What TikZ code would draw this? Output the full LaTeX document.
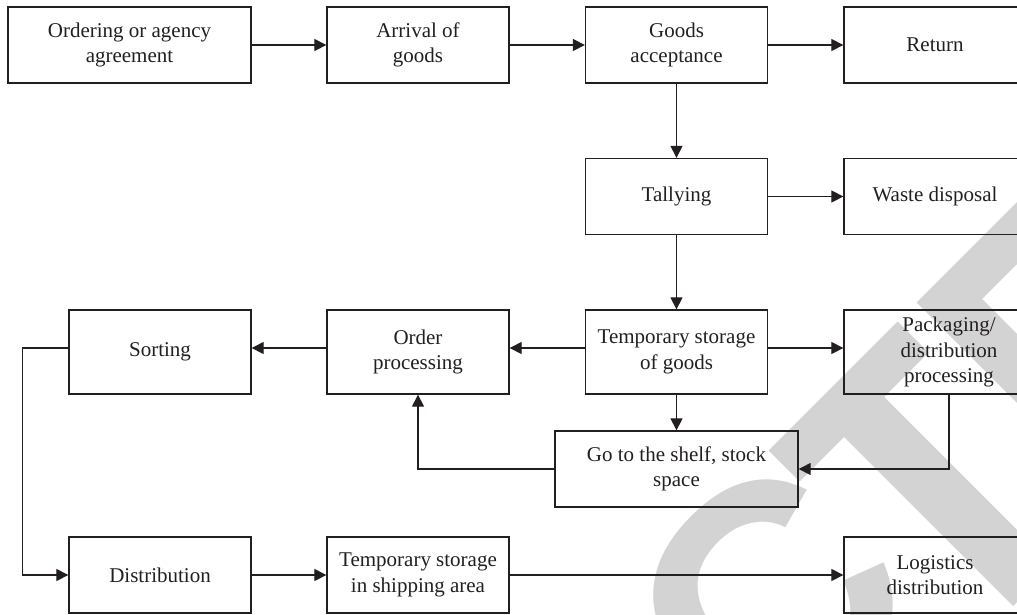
\documentclass[tikz,border=0pt]{standalone}
\usepackage{fontspec}
\setmainfont{Liberation Serif}
\newfontfamily\wmfont{Liberation Sans}
\usetikzlibrary{arrows.meta}
\definecolor{ink}{RGB}{35,31,32}
\definecolor{wmgray}{RGB}{211,211,211}
\begin{document}
\begin{tikzpicture}[x=1pt, y=-1pt,
  box/.style={draw=ink, line width=1.3pt, text=ink, align=center, inner sep=2pt,
    minimum width=182pt, minimum height=76pt, font=\fontsize{21}{25.5}\selectfont},
  widebox/.style={box, minimum width=243pt},
  tallbox/.style={minimum height=84pt},
  flow/.style={draw=ink, line width=1.2pt, -{Triangle[length=12pt, width=12pt]}},
  wmark/.style={text=wmgray, inner sep=0pt, anchor=base, rotate=45,
    font=\wmfont\bfseries\fontsize{330}{330}\selectfont}]
\useasboundingbox (0,0) rectangle (1017,614);
\clip (0,0) rectangle (1017,614);

% diagonal watermark lettering in the background
\node[wmark] (wmC) at (850,684) {C};
% letter T: crossbar and stem
\fill[wmgray] (768.5,450.5) -- (897.5,321.5) -- (928.5,352.5) -- (884,397)
  -- (1053,566) -- (1013,606) -- (844,437) -- (799.5,481.5) -- cycle;
% letter E: top arm and stem
\fill[wmgray] (916.5,302.5) -- (1309.5,-90.5) -- (1340.5,-59.5) -- (982,299)
  -- (1118,435) -- (1083.5,469.5) -- cycle;

% process steps
\node[widebox] (ord) at (129.5,45) {Ordering or agency\\agreement};
\node[box] (arr) at (418,45) {Arrival of\\goods};
\node[box] (acc) at (676.5,45) {Goods\\acceptance};
\node[box] (ret) at (935,45) {Return};
\node[box] (tal) at (676.5,196.5) {Tallying};
\node[box] (waste) at (935,196.5) {Waste disposal};
\node[box,tallbox] (tmp) at (676.5,352) {Temporary storage\\of goods};
\node[box,tallbox,minimum width=210pt] (pack) at (949,352) {Packaging/\\distribution\\processing};
\node[box,tallbox] (order) at (418,352) {Order\\processing};
\node[box,tallbox] (sort) at (160,352) {Sorting};
\node[widebox] (shelf) at (676.5,469) {Go to the shelf, stock\\space};
\node[box] (dist) at (160,575) {Distribution};
\node[box] (ship) at (418,575) {Temporary storage\\in shipping area};
\node[box] (log) at (935,575) {Logistics\\distribution};

% connectors
\draw[flow] (ord) -- (arr);
\draw[flow] (arr) -- (acc);
\draw[flow] (acc) -- (ret);
\draw[flow] (acc) -- (tal);
\draw[flow] (tal) -- (waste);
\draw[flow] (tal) -- (tmp);
\draw[flow] ([yshift=4pt]tmp.west) -- ([yshift=4pt]order.east);
\draw[flow] ([yshift=4pt]order.west) -- ([yshift=4pt]sort.east);
\draw[flow] ([yshift=4pt]tmp.east) -- ([yshift=4pt]pack.west);
\draw[flow] (tmp) -- (shelf);
\draw[flow] (shelf.west) -| (order.south);
\draw[flow] (pack.south) |- (shelf.east);
\draw[flow] ([yshift=4pt]sort.west) -- ++(-46,0) |- (dist.west);
\draw[flow] (dist) -- (ship);
\draw[flow] (ship) -- (log);
\end{tikzpicture}
\end{document}
